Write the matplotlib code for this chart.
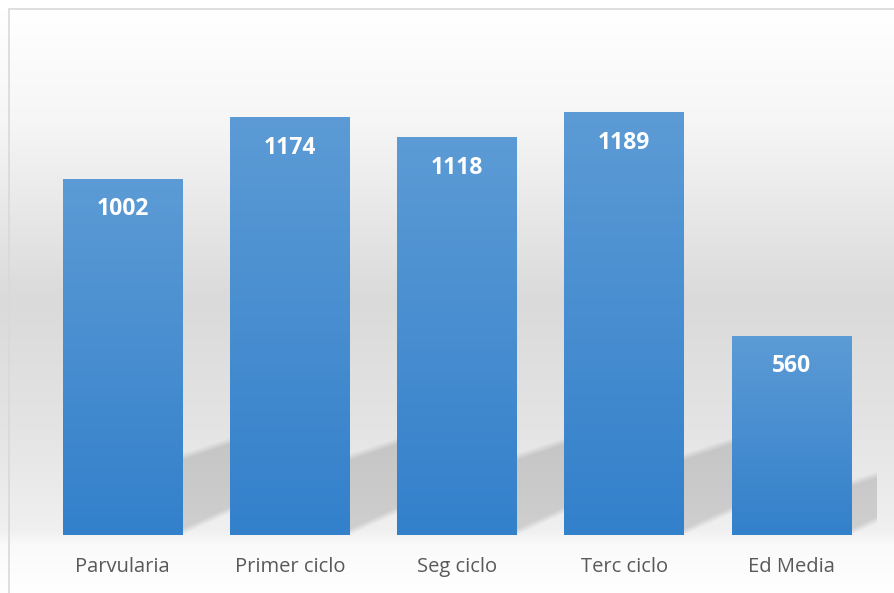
import numpy as np
import matplotlib
matplotlib.use('Agg')
import matplotlib.pyplot as plt
from matplotlib.colors import LinearSegmentedColormap
from matplotlib.patches import Rectangle

# data
categories = ['Parvularia', 'Primer ciclo', 'Seg ciclo', 'Terc ciclo', 'Ed Media']
values = [1002, 1174, 1118, 1189, 560]

W, H = 895, 593
fig = plt.figure(figsize=(W / 100, H / 100), dpi=100)

# background gradient over the whole figure (white -> grey -> white)
bg_ax = fig.add_axes([0, 0, 1, 1], zorder=0)
rows = np.arange(H)
stops_y = [0, 10, 120, 300, 430, 530, 545, 593]
stops_v = [255, 255, 246, 218, 228, 240, 250, 255]
grey = np.interp(rows, stops_y, stops_v) / 255.0
bg = np.repeat(grey[:, None], 10, axis=1)
bg_ax.imshow(np.dstack([bg, bg, bg]), aspect='auto', extent=(0, 1, 0, 1), origin='upper')
bg_ax.set_xlim(0, 1)
bg_ax.set_ylim(0, 1)
bg_ax.axis('off')
# light frame (left and top)
bg_ax.add_patch(Rectangle((8.5 / W, -0.1), 2, 1.1 - 9.5 / H, transform=bg_ax.transAxes,
                          fill=False, edgecolor='#d9d9d9', linewidth=1.2, clip_on=False))

# plot area
base_px = 535
ymax = 1400
px_per_unit = 356 / 1002
left, right = 39, 875
ax = fig.add_axes([left / W, (H - base_px) / H, (right - left) / W, ymax * px_per_unit / H], zorder=1)
ax.patch.set_alpha(0)

width = 0.715
x = np.arange(len(values))
cat_px = (right - left) / len(values)

# soft skewed shadows to the right of each bar
for i, (xi, v) in enumerate(zip(x, values)):
    xr = xi + width / 2
    gap_px = 50 if i < len(values) - 1 else 26
    top_px = 80
    u = np.arange(gap_px)[None, :] + 0.5
    vv = np.arange(top_px + 30)[::-1][:, None] + 0.5
    t0 = min(78, 0.26 * v * px_per_unit)
    top = t0 + 16 * u / 48
    bot = 3 + 22 * u / 48
    blur = 7.0
    a = np.clip((top - vv) / blur + 0.5, 0, 1) * np.clip((vv - bot) / blur + 0.5, 0, 1)
    img = np.zeros(a.shape + (4,))
    img[..., 3] = 0.14 * a
    ax.imshow(img, aspect='auto', interpolation='bilinear', clip_on=False,
              extent=(xr, xr + gap_px / cat_px, 0, (top_px + 30) / px_per_unit), zorder=1)

# bars with vertical gradient
cmap = LinearSegmentedColormap.from_list('bar', ['#3380cb', '#5c9bd5'])
grad = np.linspace(0, 1, 256)[:, None]
bars = ax.bar(x, values, width=width, color='none', edgecolor='none', zorder=2)
for b in bars:
    x0, w, h = b.get_x(), b.get_width(), b.get_height()
    ax.imshow(grad, cmap=cmap, aspect='auto', origin='lower',
              extent=(x0, x0 + w, 0, h), zorder=2)
ax.set_xlim(-0.5, len(values) - 0.5)
ax.set_ylim(0, ymax)

# value labels inside the top of each bar
for xi, v in zip(x, values):
    ax.annotate(str(v), xy=(xi, v), xytext=(0, -30), textcoords='offset pixels',
                ha='center', va='center', color='white', fontsize=16.5,
                fontweight='bold', family='Open Sans', zorder=3)

ax.set_xticks(x)
ax.set_xticklabels(categories, fontsize=14.5, color='#595959', family='Open Sans')
ax.tick_params(axis='x', length=0, pad=16)
ax.set_yticks([])
for s in ax.spines.values():
    s.set_visible(False)

fig.savefig('out.png', dpi=100)
